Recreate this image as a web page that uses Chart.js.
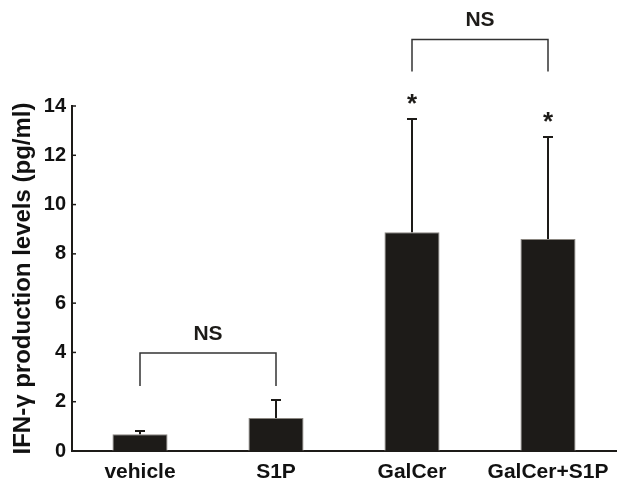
<!DOCTYPE html>
<html>
<head>
<meta charset="utf-8">
<script src="https://cdn.jsdelivr.net/npm/chart.js@4.4.0/dist/chart.umd.min.js"></script>
<style>
  html, body { margin: 0; padding: 0; background: #fff; }
  #wrap { width: 632px; height: 486px; }
</style>
</head>
<body>
<div id="wrap"><canvas id="myChart" width="632" height="486"></canvas></div>
<script>
const categories = ['vehicle', 'S1P', 'GalCer', 'GalCer+S1P'];
const means = [0.68, 1.34, 8.88, 8.6];
const errors = [0.13, 0.73, 4.59, 4.14];
const yTicks = [0, 2, 4, 6, 8, 10, 12, 14];
const starred = [false, false, true, true];
// comparison brackets (from index, to index, top value, leg bottom value)
const bracketFrom = [0, 2];
const bracketTo = [1, 3];
const bracketTop = [3.98, 16.7];
const bracketBottom = [2.64, 15.4];
const bracketLabels = ['NS', 'NS'];

const ink = '#1d1b18';
const fontFam = '"Liberation Sans", Arial, sans-serif';

const extrasPlugin = {
    id: 'extras',
    afterDatasetsDraw(chart) {
        const ctx = chart.ctx;
        const x = chart.scales.x;
        const y = chart.scales.y;
        const area = chart.chartArea;
        ctx.save();
        ctx.strokeStyle = ink;
        ctx.fillStyle = ink;

        // inward tick marks on y axis
        ctx.lineWidth = 1.5;
        yTicks.forEach(function (t) {
            const py = y.getPixelForValue(t);
            ctx.beginPath();
            ctx.moveTo(area.left, py);
            ctx.lineTo(area.left + 4, py);
            ctx.stroke();
        });

        // error bars (upper only)
        ctx.lineWidth = 2;
        for (let i = 0; i < means.length; ++i) {
            const px = x.getPixelForValue(i);
            const top = y.getPixelForValue(means[i] + errors[i]);
            const base = y.getPixelForValue(means[i]);
            ctx.beginPath();
            ctx.moveTo(px, base);
            ctx.lineTo(px, top);
            ctx.moveTo(px - 5, top);
            ctx.lineTo(px + 5, top);
            ctx.stroke();
            if (starred[i]) {
                ctx.font = 'bold 26px ' + fontFam;
                ctx.textAlign = 'center';
                ctx.textBaseline = 'alphabetic';
                ctx.fillText('*', px, top - 7);
            }
        }

        // brackets
        ctx.lineWidth = 1.5;
        ctx.strokeStyle = '#333';
        for (let b = 0; b < bracketFrom.length; ++b) {
            const x1 = x.getPixelForValue(bracketFrom[b]);
            const x2 = x.getPixelForValue(bracketTo[b]);
            const yt = y.getPixelForValue(bracketTop[b]);
            const yb = y.getPixelForValue(bracketBottom[b]);
            ctx.beginPath();
            ctx.moveTo(x1, yb);
            ctx.lineTo(x1, yt);
            ctx.lineTo(x2, yt);
            ctx.lineTo(x2, yb);
            ctx.stroke();
            ctx.font = 'bold 21px ' + fontFam;
            ctx.textAlign = 'center';
            ctx.textBaseline = 'middle';
            ctx.fillText(bracketLabels[b], (x1 + x2) / 2, yt - 19);
        }
        ctx.restore();
    }
};

const ctx = document.getElementById('myChart').getContext('2d');
new Chart(ctx, {
    type: 'bar',
    data: {
        labels: categories,
        datasets: [{
            data: means,
            backgroundColor: ink,
            borderColor: '#8a8680',
            borderWidth: 1,
            barPercentage: 0.405,
            categoryPercentage: 1.0
        }]
    },
    options: {
        responsive: false,
        animation: false,
        events: [],
        layout: { padding: { top: 106, right: 16, left: 0, bottom: 0 } },
        plugins: {
            legend: { display: false },
            tooltip: { enabled: false }
        },
        scales: {
            x: {
                grid: { display: false, drawTicks: false },
                border: { display: true, color: ink, width: 2 },
                ticks: {
                    color: '#111',
                    padding: 9,
                    font: { family: fontFam, size: 21, weight: 'bold' }
                },
                afterFit: function (scale) { scale.height = 35; }
            },
            y: {
                min: 0,
                max: 14,
                grid: { display: false, drawTicks: false },
                border: { display: true, color: ink, width: 2 },
                afterBuildTicks: function (scale) {
                    scale.ticks = yTicks.map(function (v) { return { value: v }; });
                },
                ticks: {
                    color: '#111',
                    padding: 6,
                    font: { family: fontFam, size: 20, weight: 'bold' }
                },
                title: {
                    display: true,
                    text: 'IFN-γ production levels (pg/ml)',
                    color: '#111',
                    padding: { top: 9, bottom: 0 },
                    font: { family: fontFam, size: 24, weight: 'bold' }
                },
                afterFit: function (scale) { scale.width = 72; }
            }
        }
    },
    plugins: [extrasPlugin]
});
</script>
</body>
</html>
